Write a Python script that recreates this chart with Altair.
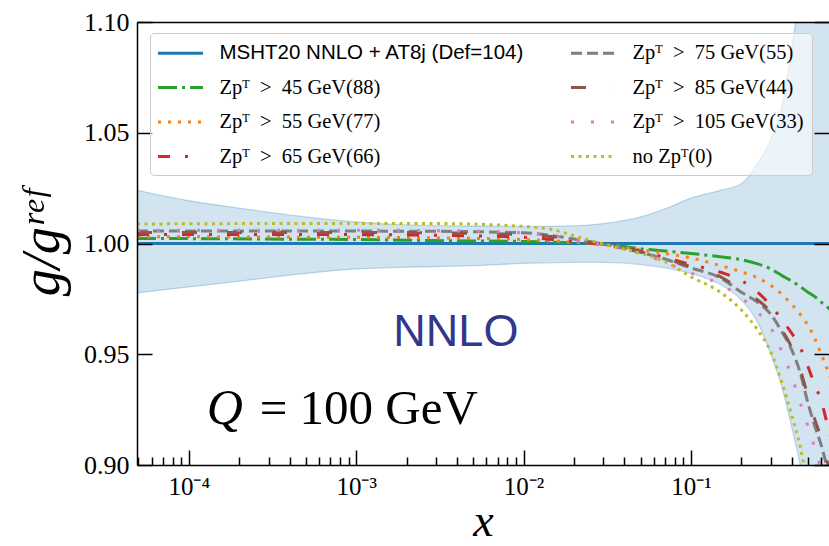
import altair as alt
import pandas as pd

XMIN, XMAX = 4.9e-5, 0.668
YMIN, YMAX = 0.90, 1.10
W, H = 692, 443

# ---------------- data ----------------
xs = [4.9e-5, 1e-4, 3e-4, 1e-3, 3e-3, 1e-2, 1.5e-2, 2e-2, 3e-2, 5e-2, 7e-2, 0.1,
      0.15, 0.2, 0.25, 0.3, 0.35, 0.4, 0.45, 0.5, 0.55, 0.6, 0.65, 0.7]

msht = [1.0] * len(xs)
pt45 = [1.0023, 1.0022, 1.0020, 1.0018, 1.0013, 1.0009, 1.0006, 1.0003, 0.9998, 0.9976, 0.9966, 0.9955,
        0.9940, 0.9927, 0.9908, 0.9885, 0.9855, 0.9830, 0.9805, 0.9780, 0.9760, 0.9735, 0.9715, 0.9690]
pt55 = [1.0030, 1.0030, 1.0029, 1.0028, 1.0025, 1.0018, 1.0012, 1.0006, 0.9996, 0.9972, 0.9955, 0.9935,
        0.9900, 0.9872, 0.9845, 0.9810, 0.9770, 0.9725, 0.9680, 0.9630, 0.9570, 0.9500, 0.9435, 0.9370]
pt65 = [1.0040, 1.0041, 1.0041, 1.0040, 1.0037, 1.0028, 1.0018, 1.0009, 0.9995, 0.9965, 0.9937, 0.9905,
        0.9870, 0.9833, 0.9780, 0.9720, 0.9655, 0.9595, 0.9530, 0.9445, 0.9360, 0.9290, 0.9190, 0.9100]
pt75 = [1.0056, 1.0056, 1.0056, 1.0056, 1.0055, 1.0048, 1.0035, 1.0020, 0.9996, 0.9960, 0.9930, 0.9890,
        0.9845, 0.9780, 0.9735, 0.9680, 0.9600, 0.9520, 0.9415, 0.9280, 0.9175, 0.9090, 0.8990, 0.8890]
pt85 = [1.0049, 1.0050, 1.0050, 1.0050, 1.0048, 1.0040, 1.0030, 1.0017, 0.9997, 0.9962, 0.9932, 0.9895,
        0.9850, 0.9790, 0.9745, 0.9690, 0.9610, 0.9530, 0.9430, 0.9310, 0.9205, 0.9120, 0.9020, 0.8920]
pt105 = [1.0060, 1.0060, 1.0060, 1.0060, 1.0058, 1.0048, 1.0035, 1.0020, 0.9993, 0.9955, 0.9915, 0.9867,
         0.9815, 0.9755, 0.9690, 0.9620, 0.9510, 0.9400, 0.9280, 0.9175, 0.9075, 0.8980, 0.8890, 0.8800]
ptno = [1.0088, 1.0089, 1.0090, 1.0090, 1.0090, 1.0077, 1.0062, 1.0035, 0.9997, 0.9955, 0.9918, 0.9850,
        0.9780, 0.9700, 0.9610, 0.9510, 0.9370, 0.9225, 0.9080, 0.8900, 0.8700, 0.8500, 0.8300, 0.8100]

band_x = [4.9e-5, 1e-4, 2e-4, 5e-4, 1e-3, 2e-3, 5e-3, 1e-2, 2e-2, 3e-2, 5e-2, 7e-2, 0.1,
          0.15, 0.2, 0.25, 0.3, 0.35, 0.4, 0.45, 0.5, 0.6, 0.7]
band_hi = [1.0240, 1.0193, 1.0160, 1.0120, 1.0097, 1.0084, 1.0079, 1.0077, 1.0080, 1.0090, 1.0120, 1.0156, 1.0205,
           1.0240, 1.0270, 1.0360, 1.0470, 1.0620, 1.0880, 1.1150, 1.1400, 1.1800, 1.2200]
band_lo = [0.9777, 0.9804, 0.9830, 0.9865, 0.9885, 0.9893, 0.9900, 0.9910, 0.9915, 0.9915, 0.9905, 0.9890, 0.9865,
           0.9815, 0.9745, 0.9645, 0.9500, 0.9350, 0.9170, 0.9000, 0.8800, 0.8300, 0.7800]

MSHT = "MSHT20 NNLO + AT8j (Def=104)"
names = [MSHT, "Zpᵀ\u2002>\u200245 GeV(88)", "Zpᵀ\u2002>\u200255 GeV(77)", "Zpᵀ\u2002>\u200265 GeV(66)",
         "Zpᵀ\u2002>\u200275 GeV(55)", "Zpᵀ\u2002>\u200285 GeV(44)", "Zpᵀ\u2002>\u2002105 GeV(33)", "no Zpᵀ(0)"]
series = [msht, pt45, pt55, pt65, pt75, pt85, pt105, ptno]
colors = ["#1f77b4", "#2ca02c", "#ff7f0e", "#d62728", "#7f7f7f", "#8c564b", "#e377c2", "#bcbd22"]
dashes = [[1, 0], [19, 5, 3, 5], [3, 7], [12, 15, 3, 15], [11, 5], [15, 30], [3, 17], [3, 4.5]]

x_major = [1e-4, 1e-3, 1e-2, 1e-1]
x_minor = [m * 10.0 ** e for e in range(-5, 0) for m in range(2, 10)
           if XMIN <= m * 10.0 ** e <= XMAX]
y_ticks = [0.90, 0.95, 1.00, 1.05, 1.10]

note_text = ["NNLO"]
note_x = [3.94e-3]
note_y = [0.9535]
q_text = ["Q"]
q_x = [1.28e-4]
q_y = [0.9185]
eq_text = ["= 100 GeV"]
eq_x = [2.65e-4]
eq_y = [0.9185]

# ---------------- tables ----------------
rows = []
for n, s in zip(names, series):
    for xv, yv in zip(xs, s):
        rows.append({"x": xv, "y": yv, "set": n})
lines_df = pd.DataFrame(rows)
band_df = pd.DataFrame({"x": band_x, "lo": band_lo, "hi": band_hi})
note_df = pd.DataFrame({"t": note_text, "x": note_x, "y": note_y})
q_df = pd.DataFrame({"t": q_text, "x": q_x, "y": q_y})
eq_df = pd.DataFrame({"t": eq_text, "x": eq_x, "y": eq_y})

SERIF = "Liberation Serif"
xscale = alt.Scale(type="log", domain=[XMIN, XMAX])
yscale = alt.Scale(domain=[YMIN, YMAX])

lab_expr = ("datum.value < 0.0005 ? '10⁻⁴' : datum.value < 0.005 ? '10⁻³' : "
            "datum.value < 0.05 ? '10⁻²' : '10⁻¹'")

ax_x_labels = alt.Axis(orient="bottom", values=x_major, labelExpr=lab_expr, ticks=False,
                       domain=True, domainColor="black", domainWidth=1.5, grid=False,
                       labelFont=SERIF, labelFontSize=25, labelColor="black", labelPadding=9,
                       labelFlush=False, labelOverlap=False,
                       title="x", titleFont=SERIF, titleFontStyle="italic", titleFontWeight="normal",
                       titleFontSize=46, titleColor="black", titlePadding=0, zindex=2)
ax_x_major = alt.Axis(orient="top", offset=-H, values=x_major, tickSize=15, tickWidth=1.5,
                      tickColor="black", labels=False, domain=False, grid=False, title=None, zindex=2)
ax_x_minor = alt.Axis(orient="top", offset=-H, values=x_minor, tickSize=8, tickWidth=1.5,
                      tickColor="black", labels=False, domain=False, grid=False, title=None, zindex=2)
ax_x_top = alt.Axis(orient="top", ticks=False, labels=False, domain=True, domainColor="black",
                    domainWidth=1.5, grid=False, title=None, zindex=2)

ax_y_labels = alt.Axis(orient="left", values=y_ticks, format=".2f", ticks=False, domain=True,
                       domainColor="black", domainWidth=1.5, grid=False,
                       labelFont=SERIF, labelFontSize=26, labelColor="black", labelPadding=8,
                       title="g/gʳᵉᶠ", titleFont=SERIF, titleFontStyle="italic", titleFontWeight="normal",
                       titleFontSize=54, titleColor="black", titlePadding=14, zindex=2)
ax_y_in_left = alt.Axis(orient="right", offset=-W, values=y_ticks, tickSize=15, tickWidth=1.5,
                        tickColor="black", labels=False, domain=False, grid=False, title=None, zindex=2)
ax_y_in_right = alt.Axis(orient="left", offset=-W, values=y_ticks, tickSize=15, tickWidth=1.5,
                         tickColor="black", labels=False, domain=False, grid=False, title=None, zindex=2)

leg_font = "datum.label == '" + MSHT + "' ? 'Liberation Sans' : 'Liberation Serif'"
leg = alt.Legend(title=None, orient="none", legendX=13, legendY=11, columns=2, columnPadding=39,
                 rowPadding=11.5, padding=8, fillColor="rgba(255,255,255,0.6)", strokeColor="#cccccc",
                 cornerRadius=4, symbolType="M-2.143,0H2.143", symbolSize=441, symbolStrokeWidth=3,
                 symbolOffset=10.5, labelOffset=27, labelFontSize=20.5, labelFont={"expr": leg_font},
                 labelLimit=500, labelColor="black", zindex=3)

band = alt.Chart(band_df).mark_area(
    clip=True, interpolate="monotone", fill="#1f77b4", fillOpacity=0.2,
    stroke="#1f77b4", strokeOpacity=0.25, strokeWidth=1.3
).encode(
    x=alt.X("x:Q", scale=xscale, axis=ax_x_labels),
    y=alt.Y("lo:Q", scale=yscale, axis=ax_y_labels),
    y2="hi:Q",
)

lines = alt.Chart(lines_df).mark_line(
    clip=True, interpolate="monotone", strokeWidth=3, strokeCap="butt"
).encode(
    x=alt.X("x:Q", scale=xscale, axis=ax_x_major),
    y=alt.Y("y:Q", scale=yscale, axis=ax_y_in_left),
    color=alt.Color("set:N", scale=alt.Scale(domain=names, range=colors), legend=leg),
    strokeDash=alt.StrokeDash("set:N", scale=alt.Scale(domain=names, range=dashes), legend=leg),
)

note = alt.Chart(note_df).mark_text(
    font="Liberation Sans", fontSize=45, color="#32378c", align="center", baseline="alphabetic"
).encode(
    x=alt.X("x:Q", scale=xscale, axis=ax_x_minor),
    y=alt.Y("y:Q", scale=yscale, axis=ax_y_in_right),
    text="t:N",
)

qtxt = alt.Chart(q_df).mark_text(
    font=SERIF, fontSize=50, fontStyle="italic", color="black", align="left", baseline="alphabetic"
).encode(
    x=alt.X("x:Q", scale=xscale, axis=ax_x_top),
    y=alt.Y("y:Q", scale=yscale, axis=None),
    text="t:N",
)

eqtxt = alt.Chart(eq_df).mark_text(
    font=SERIF, fontSize=49, color="black", align="left", baseline="alphabetic"
).encode(
    x=alt.X("x:Q", scale=xscale, axis=None),
    y=alt.Y("y:Q", scale=yscale, axis=None),
    text="t:N",
)

chart = alt.layer(band, lines, note, qtxt, eqtxt).resolve_axis(
    x="independent", y="independent"
).properties(
    width=W, height=H,
    padding={"left": 137, "top": 22, "right": 0, "bottom": 81},
    autosize=alt.AutoSizeParams(type="none"),
    background="white",
).configure_view(stroke=None)

chart.save("out.html", embed_options={"renderer": "svg", "actions": False})
